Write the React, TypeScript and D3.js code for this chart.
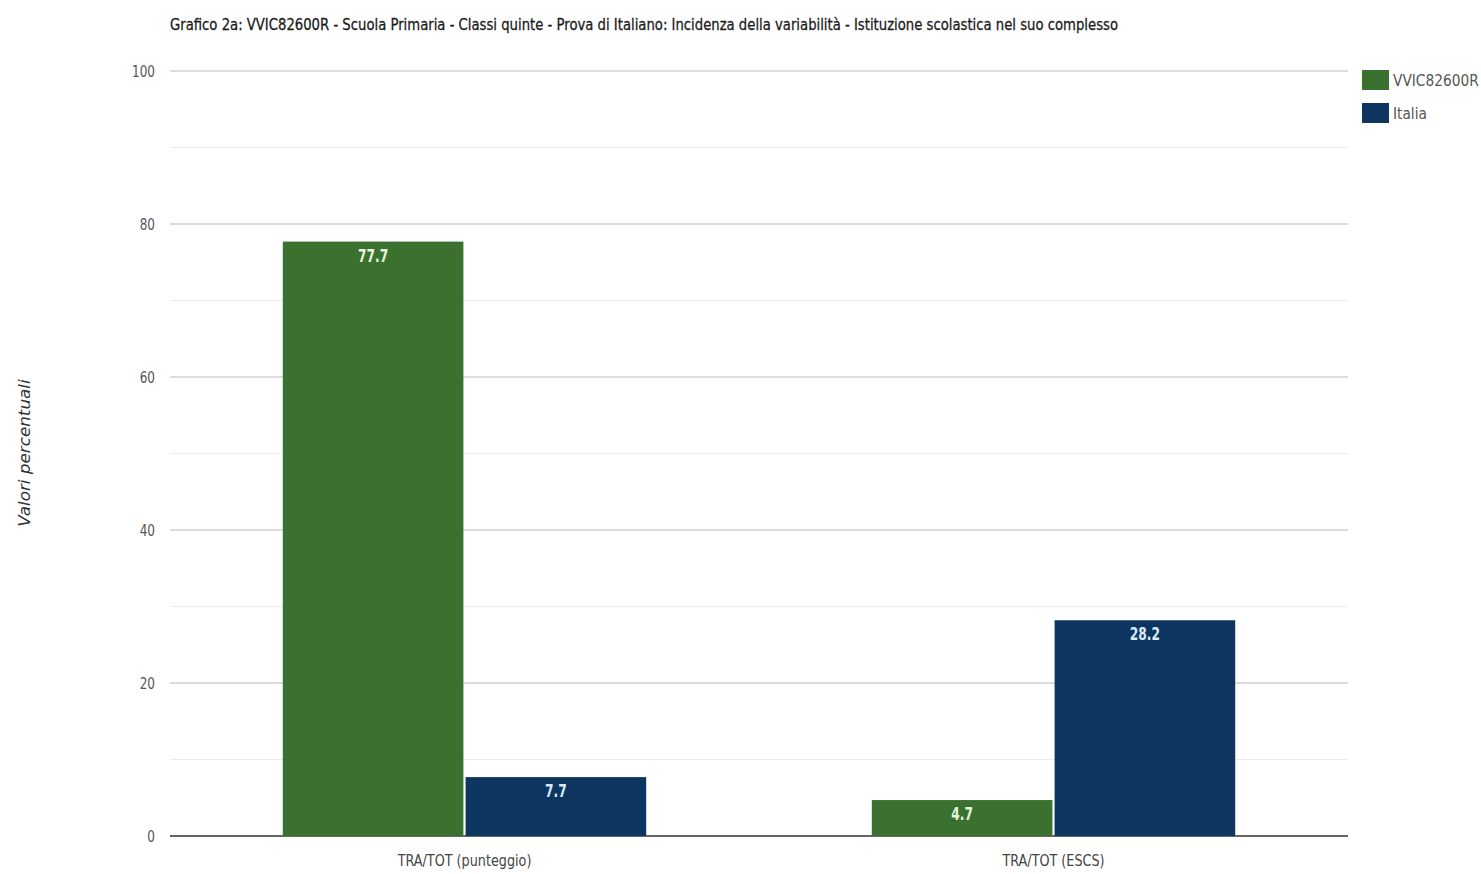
import React from "react";
import * as d3 from "d3";

const categories = ["TRA/TOT (punteggio)", "TRA/TOT (ESCS)"];
const seriesNames = ["VVIC82600R", "Italia"];
const schoolValues = [77.7, 4.7];
const italiaValues = [7.7, 28.2];
const majorTicks = [0, 20, 40, 60, 80, 100];
const minorTicks = [10, 30, 50, 70, 90];
const title =
  "Grafico 2a: VVIC82600R - Scuola Primaria - Classi quinte - Prova di Italiano: Incidenza della variabilità - Istituzione scolastica nel suo complesso";

const colors = ["#3a712f", "#0c3660"];
const labelColors = ["#e4f5dc", "#dce8f5"];
const font = "'DejaVu Sans', sans-serif";

function Narrow(props: { x: number; y: number; sx: number; anchor?: string; size: number; fill: string; weight?: string; style?: string; children: React.ReactNode }) {
  return (
    <g transform={`translate(${props.x},${props.y}) scale(${props.sx},1)`}>
      <text x={0} y={0} textAnchor={props.anchor || "start"} fontFamily={font} fontSize={props.size} fill={props.fill} fontWeight={props.weight || "normal"} fontStyle={props.style || "normal"}>
        {props.children}
      </text>
    </g>
  );
}

export default function App() {
  const W = 1481, H = 874;
  const left = 170, right = 1348, top = 71, bottom = 836;
  const y = d3.scaleLinear().domain([0, 100]).range([bottom, top]);
  const x0 = d3.scaleBand().domain(categories).range([left, right]).paddingInner(0).paddingOuter(0);
  const groupW = x0.bandwidth() * 0.617;
  const x1 = d3.scaleBand().domain(seriesNames).range([0, groupW]).paddingInner(0.012);
  const data = categories.map((c, i) => ({ c, vals: [schoolValues[i], italiaValues[i]] }));

  return (
    <svg width={W} height={H} style={{ position: "absolute", left: 0, top: 0, background: "#fff" }}>
      <text x={170} y={30} fontFamily={font} fontSize={16} fontWeight="500" fill="#1a1a1a" stroke="#1a1a1a" strokeWidth={0.3} textLength={948} lengthAdjust="spacingAndGlyphs">
        {title}
      </text>
      {minorTicks.map((t) => (
        <line key={"m" + t} x1={left} x2={right} y1={y(t)} y2={y(t)} stroke="#ececec" strokeWidth={1} />
      ))}
      {majorTicks.map((t) => (
        <g key={t}>
          <line x1={left} x2={right} y1={y(t)} y2={y(t)} stroke={t === 0 ? "#333" : "#cfcfcf"} strokeWidth={1.5} />
          <Narrow x={155} y={y(t) + 6} sx={0.75} anchor="end" size={16} fill="#555">
            {t}
          </Narrow>
        </g>
      ))}
      {data.map((d) => {
        const gx = (x0(d.c) as number) + (x0.bandwidth() - groupW) / 2;
        return (
          <g key={d.c}>
            {d.vals.map((v, j) => {
              const bx = gx + (x1(seriesNames[j]) as number);
              const bw = x1.bandwidth();
              return (
                <g key={j}>
                  <rect x={bx} y={y(v)} width={bw} height={y(0) - y(v)} fill={colors[j]} />
                  <Narrow x={bx + bw / 2} y={y(v) + 20} sx={0.68} anchor="middle" size={18} weight="bold" fill={labelColors[j]}>
                    {v}
                  </Narrow>
                </g>
              );
            })}
            <Narrow x={(x0(d.c) as number) + x0.bandwidth() / 2} y={866} sx={0.8} anchor="middle" size={16} fill="#444">
              {d.c}
            </Narrow>
          </g>
        );
      })}
      <g transform="translate(30,453) rotate(-90)">
        <Narrow x={0} y={0} sx={1.12} anchor="middle" size={15} style="italic" fill="#333">
          Valori percentuali
        </Narrow>
      </g>
      {seriesNames.map((s, i) => (
        <g key={s}>
          <rect x={1362} y={70 + i * 33} width={27} height={20} fill={colors[i]} />
          <Narrow x={1393} y={86 + i * 33} sx={0.86} size={16} fill="#555">
            {s}
          </Narrow>
        </g>
      ))}
    </svg>
  );
}
